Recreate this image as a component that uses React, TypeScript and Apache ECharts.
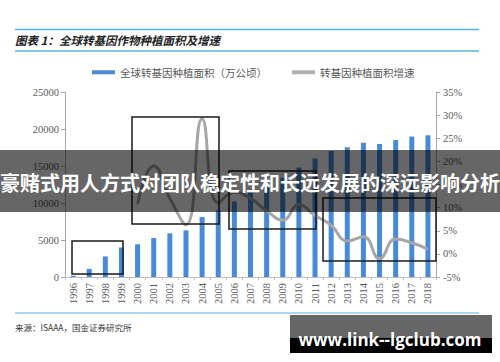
import React, { useEffect, useRef } from "react";
import * as echarts from "echarts";

const years = ["1996","1997","1998","1999","2000","2001","2002","2003","2004","2005","2006","2007","2008","2009","2010","2011","2012","2013","2014","2015","2016","2017","2018"];
const areaValues = [170, 1100, 2780, 3990, 4420, 5260, 5900, 6300, 8100, 9000, 10200, 11430, 12500, 13400, 14800, 16000, 17030, 17520, 18150, 17970, 18510, 19000, 19170];
const growthValues: (number | null)[] = [null, null, null, null, 10.8, 19.0, 12.0, 6.3, 29.2, 11.0, 13.3, 12.0, 9.3, 7.3, 10.6, 8.3, 6.2, 2.8, 3.7, -1.0, 3.2, 2.4, 1.0];
const leftTicks = { min: 0, max: 25000, interval: 5000 };
const rightTicks = { min: -5, max: 35, interval: 5 };
const barName = "全球转基因种植面积（万公顷）";
const lineName = "转基因种植面积增速";
const titleText = "图表 1：全球转基因作物种植面积及增速";
const sourceText = "来源：ISAAA，国金证券研究所";
const bannerText = "豪赌式用人方式对团队稳定性和长远发展的深远影响分析";
const watermarkText = "www.link--lgclub.com";

export default function App() {
  const ref = useRef<HTMLDivElement>(null);
  useEffect(() => {
    if (!ref.current) return;
    const chart = echarts.init(ref.current, undefined, { renderer: "svg" });
    const serif = "Liberation Serif";
    const cjk = "Noto Sans CJK SC";
    const axisGray = "#a6a6a6";
    const labelGray = "#595959";
    const blueLine = "#5ab4e0";
    const box = (x1: number, y1: number, x2: number, y2: number) => ({
      type: "rect",
      shape: { x: x1, y: y1, width: x2 - x1, height: y2 - y1 },
      style: { fill: "none", stroke: "#1a1a1a", lineWidth: 1.5 },
      z: 50,
    });
    chart.setOption({
      animation: false,
      backgroundColor: "#ffffff",
      grid: { left: 65, right: 64, top: 92, bottom: 85, containLabel: false },
      legend: {
        left: 87,
        top: 62,
        itemWidth: 23,
        itemHeight: 4,
        itemGap: 25,
        textStyle: { fontFamily: cjk, fontSize: 10.5, color: labelGray },
        data: [
          { name: barName, icon: "rect" },
          { name: lineName, icon: "rect", itemStyle: { color: "#b0b0b0" } },
        ],
      },
      xAxis: {
        type: "category",
        data: years,
        axisLine: { lineStyle: { color: "#bfbfbf" } },
        axisTick: { show: true, length: 3, lineStyle: { color: "#bfbfbf" } },
        axisLabel: { rotate: 90, margin: 6, fontFamily: serif, fontSize: 10.5, color: labelGray, interval: 0 },
      },
      yAxis: [
        {
          type: "value",
          min: leftTicks.min,
          max: leftTicks.max,
          interval: leftTicks.interval,
          axisLine: { show: true, lineStyle: { color: axisGray } },
          axisTick: { show: true, length: 4, lineStyle: { color: axisGray } },
          splitLine: { show: false },
          axisLabel: { margin: 6, fontFamily: serif, fontSize: 10.5, color: labelGray, formatter: (v: number) => String(v) },
        },
        {
          type: "value",
          min: rightTicks.min,
          max: rightTicks.max,
          interval: rightTicks.interval,
          position: "right",
          axisLine: { show: true, lineStyle: { color: axisGray } },
          axisTick: { show: true, length: 4, lineStyle: { color: axisGray } },
          splitLine: { show: false },
          axisLabel: { margin: 7, fontFamily: serif, fontSize: 10.5, color: labelGray, formatter: "{value}%" },
        },
      ],
      series: [
        {
          name: barName,
          type: "bar",
          data: areaValues,
          barWidth: 5,
          itemStyle: { color: "#4a89d6" },
          yAxisIndex: 0,
          z: 2,
        },
        {
          name: lineName,
          type: "line",
          data: growthValues,
          yAxisIndex: 1,
          smooth: 0.5,
          symbol: "none",
          lineStyle: { color: "#a6a6a6", width: 3 },
          itemStyle: { color: "#a6a6a6" },
          z: 3,
        },
      ],
      graphic: [
        { type: "line", shape: { x1: 15, y1: 29.5, x2: 479, y2: 29.5 }, style: { stroke: blueLine, lineWidth: 1.5 } },
        { type: "line", shape: { x1: 15, y1: 51, x2: 479, y2: 51 }, style: { stroke: blueLine, lineWidth: 1.5 } },
        { type: "line", shape: { x1: 15, y1: 313, x2: 479, y2: 313 }, style: { stroke: "#8ccde9", lineWidth: 1.5 } },
        {
          type: "text",
          x: 15,
          y: 40,
          style: {
            text: titleText,
            fontFamily: cjk,
            fontSize: 11.5,
            fontWeight: "bold",
            fontStyle: "italic",
            fill: "#222222",
            verticalAlign: "middle",
          },
        },
        {
          type: "text",
          x: 15,
          y: 327,
          style: { text: sourceText, fontFamily: cjk, fontSize: 8.5, fill: "#333333", verticalAlign: "middle" },
        },
        box(72, 241, 123, 274),
        box(132, 117, 219, 224),
        box(229, 171, 316, 229),
        box(323, 198, 436, 261),
        {
          type: "rect",
          shape: { x: 0, y: 150, width: 500, height: 62 },
          style: { fill: "rgba(0,0,0,0.6)" },
          z: 100,
        },
        {
          type: "text",
          x: 250,
          y: 182,
          z: 101,
          style: {
            text: bannerText,
            fontFamily: cjk,
            fontSize: 20,
            fontWeight: "bold",
            fill: "#ffffff",
            align: "center",
            verticalAlign: "middle",
          },
        },
        { type: "rect", shape: { x: 290, y: 315, width: 202, height: 23 }, style: { fill: "#666666" }, z: 100 },
        { type: "rect", shape: { x: 290, y: 338, width: 202, height: 15 }, style: { fill: "#000000" }, z: 100 },
        {
          type: "text",
          x: 390,
          y: 339,
          z: 101,
          style: {
            text: watermarkText,
            fontFamily: "Open Sans",
            fontSize: 17,
            fontWeight: "bold",
            fill: "#ffffff",
            align: "center",
            verticalAlign: "middle",
          },
        },
      ],
    });
    return () => chart.dispose();
  }, []);
  return <div ref={ref} style={{ position: "fixed", left: 0, top: 0, width: 500, height: 362 }} />;
}
